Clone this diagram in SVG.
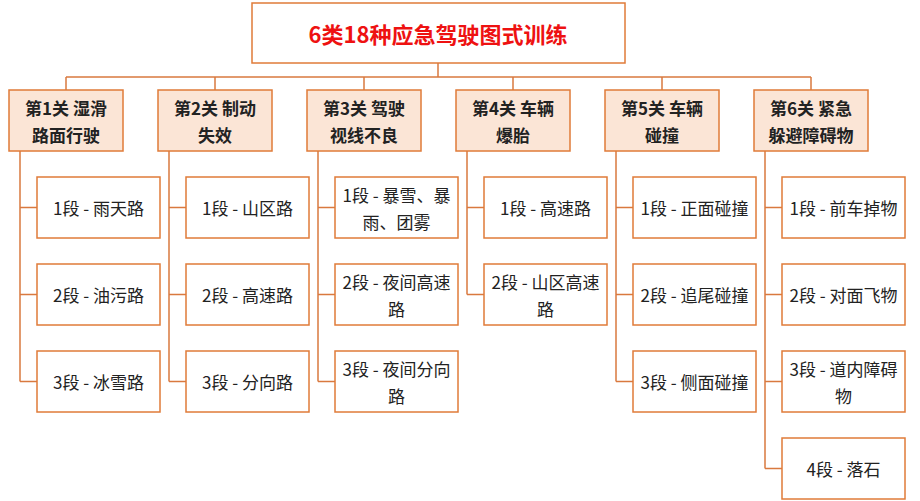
<svg xmlns="http://www.w3.org/2000/svg" width="920" height="501" viewBox="0 0 920 501">
<style>
text{font-family:"Noto Sans CJK SC","Liberation Sans",sans-serif;text-anchor:middle;dominant-baseline:central}
.cat rect{fill:#fbe5d6;stroke:#e07b39;stroke-width:1.5}
.cat text{font-size:17px;font-weight:bold;fill:#222}
.leaf rect{fill:#fff;stroke:#e07b39;stroke-width:1.5}
.leaf text{font-size:17px;fill:#222}
.con{fill:none;stroke:#d9793f;stroke-width:1.5}
</style>
<rect width="920" height="501" fill="#fff"/>
<g id="title"><rect x="252" y="3" width="373" height="60" fill="#fff" stroke="#e07b39" stroke-width="1.5"/>
<text x="438" y="33" font-size="22" font-weight="bold" fill="#ee1111">6类18种应急驾驶图式训练</text></g>
<g id="connectors" class="con">
<path d="M438 63V77M66 77H811M66 77V90M215 77V90M364 77V90M513 77V90M662 77V90M811 77V90"/>
<path d="M20 151V381.5M20 207.5H37M20 294.5H37M20 381.5H37"/>
<path d="M169 151V381.5M169 207.5H186M169 294.5H186M169 381.5H186"/>
<path d="M318 151V381.5M318 207.5H335M318 294.5H335M318 381.5H335"/>
<path d="M467 151V294.5M467 207.5H484M467 294.5H484"/>
<path d="M616 151V381.5M616 207.5H633M616 294.5H633M616 381.5H633"/>
<path d="M765 151V468.5M765 207.5H782M765 294.5H782M765 381.5H782M765 468.5H782"/>
</g>
<g id="c1" class="cat"><rect x="9" y="90" width="114" height="61"/><text x="66" y="107">第1关  湿滑</text><text x="66" y="134">路面行驶</text></g>
<g id="c2" class="cat"><rect x="158" y="90" width="114" height="61"/><text x="215" y="107">第2关  制动</text><text x="215" y="134">失效</text></g>
<g id="c3" class="cat"><rect x="307" y="90" width="114" height="61"/><text x="364" y="107">第3关  驾驶</text><text x="364" y="134">视线不良</text></g>
<g id="c4" class="cat"><rect x="456" y="90" width="114" height="61"/><text x="513" y="107">第4关  车辆</text><text x="513" y="134">爆胎</text></g>
<g id="c5" class="cat"><rect x="605" y="90" width="114" height="61"/><text x="662" y="107">第5关  车辆</text><text x="662" y="134">碰撞</text></g>
<g id="c6" class="cat"><rect x="754" y="90" width="114" height="61"/><text x="811" y="107">第6关  紧急</text><text x="811" y="134">躲避障碍物</text></g>
<g id="l1a" class="leaf"><rect x="37" y="177" width="123" height="61"/><text x="98.5" y="207.5">1段 - 雨天路</text></g>
<g id="l1b" class="leaf"><rect x="37" y="264" width="123" height="61"/><text x="98.5" y="294.5">2段 - 油污路</text></g>
<g id="l1c" class="leaf"><rect x="37" y="351" width="123" height="61"/><text x="98.5" y="381.5">3段 - 冰雪路</text></g>
<g id="l2a" class="leaf"><rect x="186" y="177" width="123" height="61"/><text x="247.5" y="207.5">1段 - 山区路</text></g>
<g id="l2b" class="leaf"><rect x="186" y="264" width="123" height="61"/><text x="247.5" y="294.5">2段 - 高速路</text></g>
<g id="l2c" class="leaf"><rect x="186" y="351" width="123" height="61"/><text x="247.5" y="381.5">3段 - 分向路</text></g>
<g id="l3a" class="leaf"><rect x="335" y="177" width="123" height="61"/><text x="396.5" y="194">1段 - 暴雪、暴</text><text x="396.5" y="221">雨、团雾</text></g>
<g id="l3b" class="leaf"><rect x="335" y="264" width="123" height="61"/><text x="396.5" y="281">2段 - 夜间高速</text><text x="396.5" y="308">路</text></g>
<g id="l3c" class="leaf"><rect x="335" y="351" width="123" height="61"/><text x="396.5" y="368">3段 - 夜间分向</text><text x="396.5" y="395">路</text></g>
<g id="l4a" class="leaf"><rect x="484" y="177" width="123" height="61"/><text x="545.5" y="207.5">1段 - 高速路</text></g>
<g id="l4b" class="leaf"><rect x="484" y="264" width="123" height="61"/><text x="545.5" y="281">2段 - 山区高速</text><text x="545.5" y="308">路</text></g>
<g id="l5a" class="leaf"><rect x="633" y="177" width="123" height="61"/><text x="694.5" y="207.5">1段 - 正面碰撞</text></g>
<g id="l5b" class="leaf"><rect x="633" y="264" width="123" height="61"/><text x="694.5" y="294.5">2段 - 追尾碰撞</text></g>
<g id="l5c" class="leaf"><rect x="633" y="351" width="123" height="61"/><text x="694.5" y="381.5">3段 - 侧面碰撞</text></g>
<g id="l6a" class="leaf"><rect x="782" y="177" width="123" height="61"/><text x="843.5" y="207.5">1段 - 前车掉物</text></g>
<g id="l6b" class="leaf"><rect x="782" y="264" width="123" height="61"/><text x="843.5" y="294.5">2段 - 对面飞物</text></g>
<g id="l6c" class="leaf"><rect x="782" y="351" width="123" height="61"/><text x="843.5" y="368">3段 - 道内障碍</text><text x="843.5" y="395">物</text></g>
<g id="l6d" class="leaf"><rect x="782" y="438" width="123" height="61"/><text x="843.5" y="468.5">4段 - 落石</text></g>
</svg>
